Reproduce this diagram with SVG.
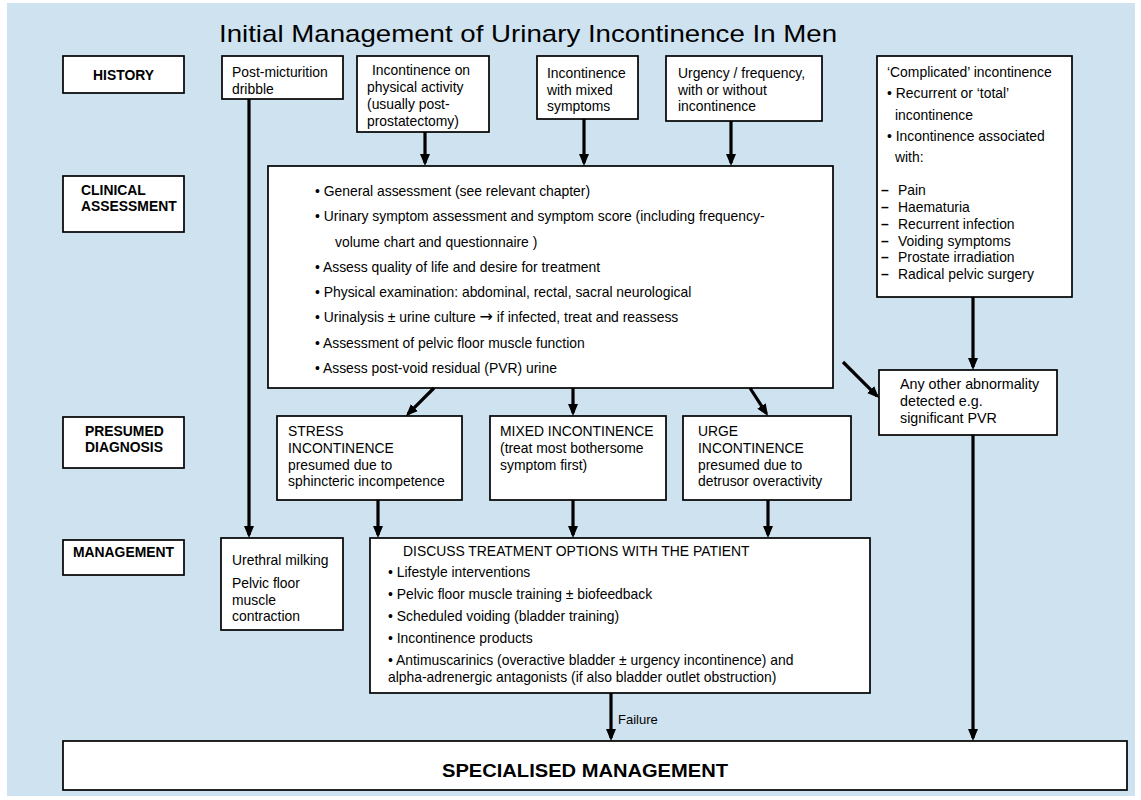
<svg xmlns="http://www.w3.org/2000/svg" width="1141" height="800" viewBox="0 0 1141 800">
<style>
.bg{fill:#cfe2f0}
.box{fill:#fff;stroke:#000;stroke-width:1.7}
.t{font-family:"Liberation Sans",Arial,sans-serif;font-size:13.9px;fill:#000}
.b{font-weight:bold}
.m{text-anchor:middle}
.c{stroke:#000;stroke-width:3.2;fill:none}
.ar{font-family:"DejaVu Sans",sans-serif;font-size:16px}
</style>
<defs>
<marker id="ah" markerUnits="userSpaceOnUse" markerWidth="12" markerHeight="10" viewBox="0 0 12 10" refX="9" refY="5" orient="auto">
<path d="M0,0 L12,5 L0,10 z" fill="#000"/>
</marker>
</defs>
<rect width="1141" height="800" fill="#fff"/>
<rect class="bg" x="7" y="3" width="1128" height="793"/>

<g id="title">
<text class="t m" transform="translate(528,42) scale(1.12,1)" style="font-size:24.7px">Initial Management of Urinary Incontinence In Men</text>
</g>

<g id="history-label">
<rect class="box" x="63" y="56" width="121" height="37"/>
<text class="t b m" x="123.5" y="80">HISTORY</text>
</g>
<g id="post-micturition">
<rect class="box" x="222" y="56" width="121" height="43"/>
<text class="t" x="232" y="77">Post-micturition</text>
<text class="t" x="232" y="94">dribble</text>
</g>
<g id="physical-activity">
<rect class="box" x="357" y="56" width="132" height="76"/>
<text class="t" x="372" y="75">Incontinence on</text>
<text class="t" x="367" y="92">physical activity</text>
<text class="t" x="367" y="109">(usually post-</text>
<text class="t" x="367" y="126">prostatectomy)</text>
</g>
<g id="mixed-symptoms">
<rect class="box" x="537" y="56" width="101" height="63"/>
<text class="t" x="547" y="78">Incontinence</text>
<text class="t" x="547" y="95">with mixed</text>
<text class="t" x="547" y="111">symptoms</text>
</g>
<g id="urgency">
<rect class="box" x="666" y="56" width="156" height="65"/>
<text class="t" x="678" y="78">Urgency / frequency,</text>
<text class="t" x="678" y="95">with or without</text>
<text class="t" x="678" y="111">incontinence</text>
</g>
<g id="complicated">
<rect class="box" x="877" y="56" width="195" height="241"/>
<text class="t" x="887" y="77">‘Complicated’ incontinence</text>
<text class="t" x="887" y="98">• Recurrent or ‘total’</text>
<text class="t" x="895" y="120">incontinence</text>
<text class="t" x="887" y="141">• Incontinence associated</text>
<text class="t" x="895" y="162">with:</text>
<text class="t b" x="881" y="195">–</text><text class="t" x="898" y="195">Pain</text>
<text class="t b" x="881" y="212">–</text><text class="t" x="898" y="212">Haematuria</text>
<text class="t b" x="881" y="229">–</text><text class="t" x="898" y="229">Recurrent infection</text>
<text class="t b" x="881" y="246">–</text><text class="t" x="898" y="246">Voiding symptoms</text>
<text class="t b" x="881" y="262">–</text><text class="t" x="898" y="262">Prostate irradiation</text>
<text class="t b" x="881" y="279">–</text><text class="t" x="898" y="279">Radical pelvic surgery</text>
</g>

<g id="clinical-label">
<rect class="box" x="63" y="176" width="121" height="56"/>
<text class="t b" x="81" y="195">CLINICAL</text>
<text class="t b" x="81" y="211">ASSESSMENT</text>
</g>
<g id="clinical-assessment">
<rect class="box" x="268" y="166" width="565" height="222"/>
<text class="t" x="315" y="196">• General assessment (see relevant chapter)</text>
<text class="t" x="315" y="221">• Urinary symptom assessment and symptom score (including frequency-</text>
<text class="t" x="335" y="247">volume chart and questionnaire )</text>
<text class="t" x="315" y="272">• Assess quality of life and desire for treatment</text>
<text class="t" x="315" y="297">• Physical examination: abdominal, rectal, sacral neurological</text>
<text class="t" x="315" y="322">• Urinalysis ± urine culture <tspan class="ar">→</tspan> if infected, treat and reassess</text>
<text class="t" x="315" y="348">• Assessment of pelvic floor muscle function</text>
<text class="t" x="315" y="373">• Assess post-void residual (PVR) urine</text>
</g>
<g id="other-abnormality">
<rect class="box" x="879" y="370" width="178" height="65"/>
<text class="t" x="900" y="389" style="font-size:14.3px">Any other abnormality</text>
<text class="t" x="900" y="406" style="font-size:14.3px">detected e.g.</text>
<text class="t" x="900" y="423" style="font-size:14.3px">significant PVR</text>
</g>

<g id="diagnosis-label">
<rect class="box" x="63" y="417" width="121" height="51"/>
<text class="t b" x="85" y="436">PRESUMED</text>
<text class="t b" x="85" y="452">DIAGNOSIS</text>
</g>
<g id="stress">
<rect class="box" x="277" y="416" width="185" height="84"/>
<text class="t" x="288" y="436">STRESS</text>
<text class="t" x="288" y="453">INCONTINENCE</text>
<text class="t" x="288" y="470">presumed due to</text>
<text class="t" x="288" y="486">sphincteric incompetence</text>
</g>
<g id="mixed">
<rect class="box" x="490" y="416" width="176" height="84"/>
<text class="t" x="500" y="436">MIXED INCONTINENCE</text>
<text class="t" x="500" y="453">(treat most bothersome</text>
<text class="t" x="500" y="470">symptom first)</text>
</g>
<g id="urge">
<rect class="box" x="683" y="416" width="168" height="84"/>
<text class="t" x="698" y="436">URGE</text>
<text class="t" x="698" y="453">INCONTINENCE</text>
<text class="t" x="698" y="470">presumed due to</text>
<text class="t" x="698" y="486">detrusor overactivity</text>
</g>

<g id="management-label">
<rect class="box" x="63" y="540" width="121" height="35"/>
<text class="t b m" x="123.5" y="557">MANAGEMENT</text>
</g>
<g id="urethral">
<rect class="box" x="221" y="538" width="122" height="92"/>
<text class="t" x="232" y="565">Urethral milking</text>
<text class="t" x="232" y="588">Pelvic floor</text>
<text class="t" x="232" y="605">muscle</text>
<text class="t" x="232" y="621">contraction</text>
</g>
<g id="treatment-options">
<rect class="box" x="370" y="538" width="500" height="155"/>
<text class="t" x="403" y="556">DISCUSS TREATMENT OPTIONS WITH THE PATIENT</text>
<text class="t" x="388" y="577">• Lifestyle interventions</text>
<text class="t" x="388" y="599">• Pelvic floor muscle training ± biofeedback</text>
<text class="t" x="388" y="621">• Scheduled voiding (bladder training)</text>
<text class="t" x="388" y="643">• Incontinence products</text>
<text class="t" x="388" y="665">• Antimuscarinics (overactive bladder ± urgency incontinence) and</text>
<text class="t" x="388" y="682">alpha-adrenergic antagonists (if also bladder outlet obstruction)</text>
</g>

<g id="specialised">
<rect class="box" x="63" y="741" width="1064" height="49"/>
<text class="t b m" transform="translate(585,777) scale(1.15,1)" style="font-size:17.5px">SPECIALISED MANAGEMENT</text>
</g>

<g id="connectors">
<path class="c" marker-end="url(#ah)" d="M249,99 V535"/>
<path class="c" marker-end="url(#ah)" d="M425,132 V163"/>
<path class="c" marker-end="url(#ah)" d="M584,119 V163"/>
<path class="c" marker-end="url(#ah)" d="M731,121 V163"/>
<path class="c" marker-end="url(#ah)" d="M973,297 V367"/>
<path class="c" marker-end="url(#ah)" d="M434,388 L408.1,413.9"/>
<path class="c" marker-end="url(#ah)" d="M573,388 V413"/>
<path class="c" marker-end="url(#ah)" d="M750,388 L766.4,413.5"/>
<path class="c" marker-end="url(#ah)" d="M843,362 L876.9,395.9"/>
<path class="c" marker-end="url(#ah)" d="M378,500 V535"/>
<path class="c" marker-end="url(#ah)" d="M573,500 V535"/>
<path class="c" marker-end="url(#ah)" d="M768,500 V535"/>
<path class="c" marker-end="url(#ah)" d="M611,693 V738"/>
<path class="c" marker-end="url(#ah)" d="M973,435 V738"/>
<text class="t" x="618" y="724" style="font-size:13px">Failure</text>
</g>
</svg>
